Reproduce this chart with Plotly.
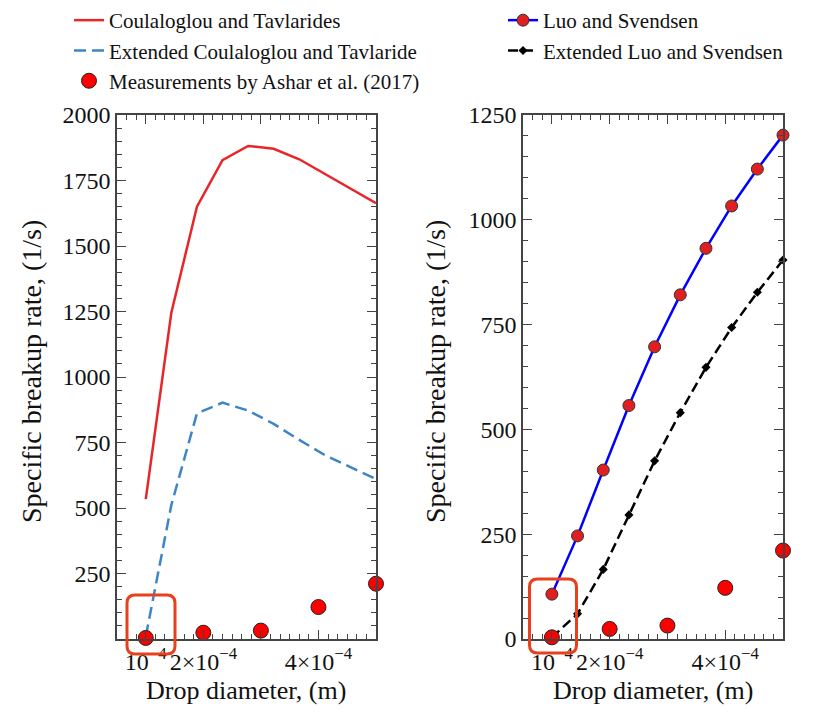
import plotly.graph_objects as go

# ---- data ----
diam = [1.0e-4, 1.444e-4, 1.889e-4, 2.333e-4, 2.778e-4, 3.222e-4, 3.667e-4, 4.111e-4, 4.556e-4, 5.0e-4]
ct = [534, 1245, 1650, 1828, 1882, 1871, 1831, 1775, 1719, 1663]
ext_ct = [10, 511, 861, 902, 872, 821, 760, 702, 656, 611]
luo = [107, 246, 403, 557, 697, 821, 932, 1033, 1121, 1202]
ext_luo = [4, 60, 166, 296, 425, 540, 648, 743, 827, 904]
meas_d = [1e-4, 2e-4, 3e-4, 4e-4, 5e-4]
meas = [4, 24, 32, 122, 211]

xtickvals = [1e-4, 2e-4, 3e-4, 4e-4]
xticktext = ["10<sup>\u22124</sup>", "2\u00d710<sup>\u22124</sup>", " ", "4\u00d710<sup>\u22124</sup>"]
ytickvals_left = [250, 500, 750, 1000, 1250, 1500, 1750, 2000]
ytickvals_right = [0, 250, 500, 750, 1000, 1250]

FONT = "Liberation Serif"
W, H = 816, 712


def PX(p):
    return p / W


def PY(p):
    return 1 - p / H


fig = go.Figure()

fig.add_trace(go.Scatter(x=diam, y=ct, mode="lines", name="Coulaloglou and Tavlarides",
                         line=dict(color="#e8262a", width=2.5), xaxis="x", yaxis="y", legend="legend"))
fig.add_trace(go.Scatter(x=diam, y=ext_ct, mode="lines", name="Extended Coulaloglou and Tavlaride",
                         line=dict(color="#3d85c6", width=2.5, dash="12px,6px"), xaxis="x", yaxis="y", legend="legend"))
fig.add_trace(go.Scatter(x=meas_d, y=meas, mode="markers", name="Measurements by Ashar et al. (2017)",
                         marker=dict(color="#ff0000", size=15, line=dict(color="#222222", width=1)),
                         xaxis="x", yaxis="y", legend="legend", cliponaxis=False))

fig.add_trace(go.Scatter(x=diam, y=luo, mode="lines+markers", name="Luo and Svendsen",
                         line=dict(color="#0000ff", width=2.5),
                         marker=dict(color="#e02020", size=12, line=dict(color="#333333", width=1)),
                         xaxis="x2", yaxis="y2", legend="legend2", cliponaxis=False))
fig.add_trace(go.Scatter(x=diam, y=ext_luo, mode="lines+markers", name="Extended Luo and Svendsen",
                         line=dict(color="#000000", width=2.5, dash="10px,5px"),
                         marker=dict(color="#000000", size=7, symbol="diamond"),
                         xaxis="x2", yaxis="y2", legend="legend2", cliponaxis=False))
fig.add_trace(go.Scatter(x=meas_d, y=meas, mode="markers", showlegend=False,
                         marker=dict(color="#ff0000", size=15, line=dict(color="#222222", width=1)),
                         xaxis="x2", yaxis="y2", cliponaxis=False))

axcol = "#444444"
txtcol = "#111111"
common_x = dict(range=[0.5e-4, 5e-4], tickmode="array", tickvals=xtickvals, ticktext=xticktext,
                ticks="inside", ticklen=9, tickwidth=1.2, tickcolor=axcol,
                minor=dict(dtick=1e-4 / 6, tick0=0, ticks="inside", ticklen=5, tickcolor=axcol, tickwidth=1),
                showline=True, linecolor=axcol, linewidth=1.5, mirror="ticks",
                showgrid=False, zeroline=False,
                tickfont=dict(family=FONT, size=24, color=txtcol),
                automargin=False)
common_y = dict(ticks="inside", ticklen=9, tickwidth=1.2, tickcolor=axcol, tickmode="array",
                minor=dict(dtick=50, tick0=0, ticks="inside", ticklen=5, tickcolor=axcol, tickwidth=1),
                showline=True, linecolor=axcol, linewidth=1.5, mirror="ticks",
                showgrid=False, zeroline=False,
                tickfont=dict(family=FONT, size=24, color=txtcol),
                automargin=False)

fig.update_layout(
    width=W, height=H,
    margin=dict(l=0, r=0, t=0, b=0),
    plot_bgcolor="white", paper_bgcolor="white",
    font=dict(family=FONT, color=txtcol),
    xaxis=dict(domain=[PX(117), PX(376)], anchor="y", **common_x),
    yaxis=dict(domain=[PY(639), PY(115)], anchor="x", range=[0, 2000], tickvals=ytickvals_left, **common_y),
    xaxis2=dict(domain=[PX(523), PX(783)], anchor="y2", **common_x),
    yaxis2=dict(domain=[PY(639), PY(115)], anchor="x2", range=[0, 1250], tickvals=ytickvals_right, **common_y),
    legend=dict(x=PX(69), y=1.0, xanchor="left", yanchor="top", bgcolor="rgba(0,0,0,0)",
                font=dict(family=FONT, size=21, color=txtcol), tracegroupgap=0),
    legend2=dict(x=PX(503), y=1.0, xanchor="left", yanchor="top", bgcolor="rgba(0,0,0,0)",
                 font=dict(family=FONT, size=21, color=txtcol), tracegroupgap=0),
    showlegend=True,
)

# axis titles
for cx in (246.5, 653):
    fig.add_annotation(text="Drop diameter, (m)", x=PX(cx), y=PY(690), xref="paper", yref="paper",
                       xanchor="center", yanchor="middle", showarrow=False,
                       font=dict(family=FONT, size=26, color=txtcol))
for cx in (31, 435):
    fig.add_annotation(text="Specific breakup rate, (1/s)", x=PX(cx), y=PY(372), xref="paper", yref="paper",
                       xanchor="center", yanchor="middle", showarrow=False, textangle=-90,
                       font=dict(family=FONT, size=28, color=txtcol))


def rounded(w, h, r):
    a, b = w / 2, h / 2
    return (f"M {-a + r},{-b} L {a - r},{-b} Q {a},{-b} {a},{-b + r} L {a},{b - r} Q {a},{b} {a - r},{b} "
            f"L {-a + r},{b} Q {-a},{b} {-a},{b - r} L {-a},{-b + r} Q {-a},{-b} {-a + r},{-b} Z")


for cx, cy, w, h in [(151, 624.5, 48, 59), (553, 616, 47, 74)]:
    fig.add_shape(type="path", xref="paper", yref="paper", xsizemode="pixel", ysizemode="pixel",
                  xanchor=PX(cx), yanchor=PY(cy), path=rounded(w, h, 8),
                  line=dict(color="#e8401c", width=3), fillcolor="rgba(0,0,0,0)", layer="above")

fig.write_html("out.html", config={"displayModeBar": False},
               post_script="document.body.style.margin='0';")
